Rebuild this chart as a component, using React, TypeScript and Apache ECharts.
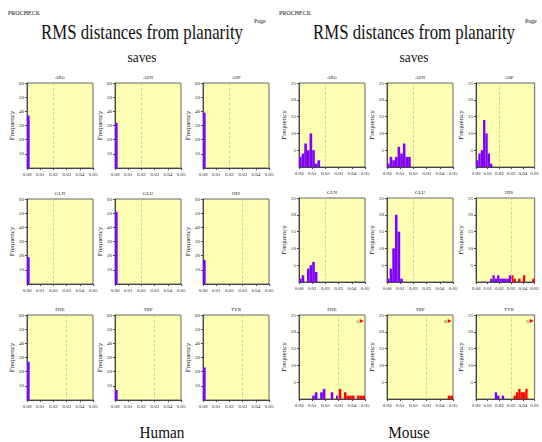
import React, { useEffect, useRef } from "react";
import * as echarts from "echarts";

const residues = ["ARG", "ASN", "ASP", "GLN", "GLU", "HIS", "PHE", "TRP", "TYR"];
const cutoffs = [0.02, 0.02, 0.02, 0.02, 0.02, 0.03, 0.03, 0.03, 0.03];
const binWidth = 0.002;

// Human: every residue falls in the first bin
const humanCounts = [37, 32, 39, 19, 51, 17, 27, 7, 23];

// Mouse: counts per bin starting at 0.000, bin width 0.002
const mouseARG = [3, 4, 7, 5, 10, 5, 1, 2];
const mouseASN = [1, 3, 2, 3, 6, 4, 7, 3, 3];
const mouseASP = [2, 4, 5, 14, 10, 4, 1];
const mouseGLN = [1, 2, 0, 4, 5, 6, 3];
const mouseGLU = [1, 4, 10, 20, 15, 1];
const mouseHIS = [0, 0, 0, 0, 0, 0, 1, 2, 1, 2, 1, 1, 1, 1, 2, 2, 1, 0, 1, 0, 2, 0, 0, 0, 1];
const mousePHE = [0, 0, 0, 0, 0, 1, 2, 0, 2, 3, 0, 0, 2, 0, 1, 3, 0, 2, 1, 1, 1, 0, 1, 1, 1];
const mouseTRP = [0, 0, 0, 0, 0, 0, 0, 0, 0, 0, 0, 0, 0, 0, 0, 0, 0, 0, 0, 0, 0, 0, 0, 1, 1];
const mouseTYR = [0, 0, 0, 0, 0, 0, 0, 0, 2, 1, 0, 1, 0, 0, 0, 0, 1, 2, 3, 2, 2, 3, 0, 0, 0];
const mouseOffScale = [0, 0, 0, 0, 0, 0, 5, 6, 5];

const mouseCounts = [mouseARG, mouseASN, mouseASP, mouseGLN, mouseGLU, mouseHIS, mousePHE, mouseTRP, mouseTYR];

const PURPLE = "#7f00ff";
const RED = "#ff0000";
const FONT = "Liberation Serif";

function binsToData(counts: number[]) {
  const out: number[][] = [];
  counts.forEach((c, i) => {
    if (c > 0) out.push([i * binWidth, (i + 1) * binWidth, c]);
  });
  return out;
}

export default function App() {
  const ref = useRef<HTMLDivElement>(null);
  useEffect(() => {
    if (!ref.current) return;
    const chart = echarts.init(ref.current, null, { renderer: "svg" });

    const grids: any[] = [];
    const xAxes: any[] = [];
    const yAxes: any[] = [];
    const series: any[] = [];
    const graphics: any[] = [];

    const leftCols = [[27, 115, 203], [299, 387, 476]];
    const tops = [[83, 199, 315], [83, 198, 315]];
    const heights = [85, 84];

    for (let side = 0; side < 2; side++) {
      for (let k = 0; k < 9; k++) {
        const idx = side * 9 + k;
        const col = k % 3;
        const row = Math.floor(k / 3);
        const left = leftCols[side][col];
        const top = tops[side][row];
        const h = heights[side];
        const w = 66;
        grids.push({
          left, top, width: w, height: h,
          show: true, backgroundColor: "#ffffb4", borderColor: "#666", borderWidth: 1,
        });
        xAxes.push({
          type: "value", gridIndex: idx, min: 0, max: 0.05, interval: 0.01,
          axisLine: { show: true, onZero: false, lineStyle: { color: "#444", width: 1 } },
          axisTick: { show: true, length: 2, lineStyle: { color: "#444" } },
          axisLabel: { fontSize: 5, fontFamily: FONT, color: "#222", margin: 4, formatter: (v: number) => v.toFixed(2) },
          splitLine: { show: false },
        });
        const ymax = side === 0 ? 60 : 25;
        yAxes.push({
          type: "value", gridIndex: idx, min: 0, max: ymax, interval: side === 0 ? 10 : 5,
          name: "Frequency", nameLocation: "middle", nameGap: 10,
          nameTextStyle: { fontSize: 7, fontFamily: FONT, color: "#222" },
          axisLine: { show: true, lineStyle: { color: "#444", width: 1 } },
          axisTick: { show: true, length: 2, lineStyle: { color: "#444" } },
          axisLabel: { fontSize: 5, fontFamily: FONT, color: "#222", margin: 3, showMinLabel: false },
          splitLine: { show: false },
        });
        const data = side === 0 ? binsToData([humanCounts[k]]) : binsToData(mouseCounts[k]);
        const cutoff = cutoffs[k];
        const s: any = {
          type: "custom", xAxisIndex: idx, yAxisIndex: idx, data,
          renderItem: (params: any, api: any) => {
            const x0 = api.value(0), x1 = api.value(1), c = api.value(2);
            const p0 = api.coord([x0, 0]);
            const p1 = api.coord([x1, c]);
            return {
              type: "rect",
              shape: { x: p0[0], y: p1[1], width: p1[0] - p0[0], height: p0[1] - p1[1] },
              style: { fill: x0 >= cutoff - 1e-9 ? RED : PURPLE },
            };
          },
          markLine: {
            silent: true, symbol: "none", animation: false,
            label: { show: false },
            lineStyle: { type: "dashed", color: "#c8c8a0", width: 0.8 },
            data: [{ xAxis: cutoff }],
          },
        };
        if (side === 1 && mouseOffScale[k] > 0) {
          s.markPoint = {
            silent: true, animation: false,
            data: [{
              coord: [0.0475, 23.2], symbol: "triangle", symbolRotate: -90, symbolSize: 4,
              itemStyle: { color: RED },
              label: { show: true, position: "left", distance: 1, formatter: String(mouseOffScale[k]), fontSize: 5, fontFamily: FONT, color: "#000" },
            }],
          };
        }
        series.push(s);
        graphics.push({
          type: "text", x: left + w / 2, y: top - 6,
          style: { text: residues[k], font: `5px "${FONT}"`, fill: "#222", textAlign: "center", textVerticalAlign: "middle" },
        });
      }
    }

    const headers = [
      { off: 0, center: 142, label: "Human", labelX: 162 },
      { off: 271, center: 414, label: "Mouse", labelX: 409 },
    ];
    headers.forEach((hd) => {
      graphics.push(
        { type: "text", x: hd.off + 8, y: 13, style: { text: "PROCHECK", font: `6px "${FONT}"`, fill: "#111", textVerticalAlign: "middle" } },
        { type: "text", x: hd.off + 254, y: 21, style: { text: "Page", font: `6px "${FONT}"`, fill: "#111", textVerticalAlign: "middle" } },
        { type: "text", x: hd.center, y: 33, scaleX: 0.84, style: { text: "RMS distances from planarity", font: `20px "${FONT}"`, fill: "#111", textAlign: "center", textVerticalAlign: "middle" } },
        { type: "text", x: hd.center, y: 57, scaleX: 0.9, style: { text: "saves", font: `15px "${FONT}"`, fill: "#111", textAlign: "center", textVerticalAlign: "middle" } },
        { type: "text", x: hd.labelX, y: 432, scaleX: 0.9, style: { text: hd.label, font: `17px "${FONT}"`, fill: "#111", textAlign: "center", textVerticalAlign: "middle" } },
      );
    });

    chart.setOption({
      animation: false,
      backgroundColor: "#fff",
      grid: grids,
      xAxis: xAxes,
      yAxis: yAxes,
      series,
      graphic: graphics,
    });
    return () => chart.dispose();
  }, []);
  return <div ref={ref} style={{ position: "fixed", left: 0, top: 0, width: 542, height: 442 }} />;
}
